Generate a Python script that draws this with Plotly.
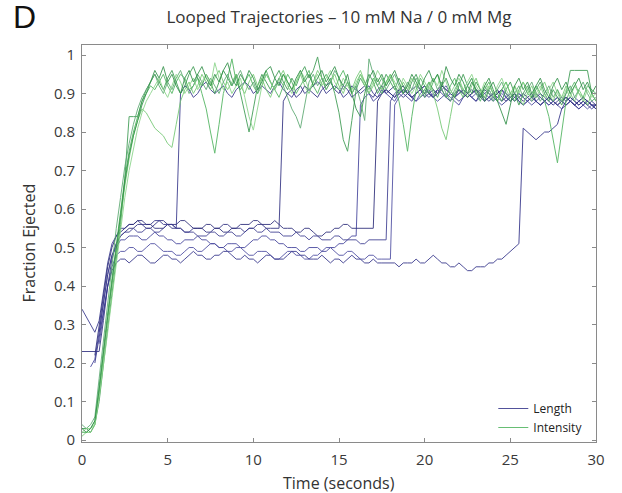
import plotly.graph_objects as go

# sampling times (s), 0.25 s steps from 0 to 30
TIME = [i * 0.25 for i in range(121)]

X_TICKS = [0, 5, 10, 15, 20, 25, 30]
Y_TICKS = [0, 0.1, 0.2, 0.3, 0.4, 0.5, 0.6, 0.7, 0.8, 0.9, 1]

TITLE = "Looped Trajectories \u2013 10 mM Na / 0 mM Mg"
PANEL = "D"
X_LABEL = "Time (seconds)"
Y_LABEL = "Fraction Ejected"
SERIES_NAMES = ["Length", "Intensity"]

# ---- Length trajectories ----
length_1 = [0.34,0.32,0.30,0.28,0.31,0.39,0.46,0.51,0.53,
    0.55,0.55,0.56,0.56,0.57,0.56,0.56,0.56,0.57,0.57,0.56,0.56,0.56,0.55,
    0.90,0.92,0.91,0.89,0.90,0.92,0.93,0.91,0.90,0.91,
    0.92,0.90,0.89,0.91,0.92,0.93,0.92,0.90,0.91,0.92,
    0.91,0.90,0.92,0.93,0.91,0.90,0.89,0.91,0.92,0.90,
    0.91,0.92,0.93,0.92,0.90,0.91,0.92,0.91,0.89,0.90,
    0.92,0.91,0.90,0.91,0.92,0.90,0.89,0.90,0.91,0.90,
    0.89,0.90,0.91,0.90,0.89,0.90,0.91,0.92,0.90,0.89,
    0.90,0.91,0.89,0.88,0.90,0.91,0.90,0.89,0.90,0.91,
    0.90,0.89,0.88,0.89,0.90,0.91,0.89,0.88,0.89,0.90,
    0.89,0.88,0.89,0.90,0.89,0.88,0.87,0.88,0.89,0.88,
    0.89,0.88,0.87,0.88,0.89,0.88,0.87,0.87]

length_2 = [0.23,0.23,0.23,0.23,0.23,
    0.31,0.40,0.47,0.51,
    0.53,0.54,0.55,0.55,0.56,0.56,0.55,0.55,0.56,0.57,
    0.57,0.56,0.55,0.55,0.55,0.54,0.54,0.55,0.55,0.55,
    0.54,0.54,0.55,0.55,0.56,0.56,0.55,0.55,0.55,0.54,
    0.55,0.55,0.56,0.56,0.55,0.55,0.55,0.55,
    0.88,0.90,0.91,0.89,0.90,0.92,0.91,0.90,0.89,0.91,
    0.92,0.93,0.91,0.90,0.92,0.91,0.89,0.90,0.91,0.92,
    0.90,0.89,0.91,0.92,0.90,0.91,0.92,0.90,0.89,0.90,
    0.91,0.92,0.91,0.89,0.90,0.91,0.90,0.92,0.91,0.90,
    0.89,0.90,0.91,0.90,0.89,0.88,0.90,0.91,0.90,0.89,
    0.90,0.91,0.90,0.89,0.88,0.89,0.90,0.89,0.88,0.89,
    0.90,0.89,0.88,0.87,0.88,0.89,0.88,0.89,0.88,0.87,
    0.88,0.87,0.88,0.87]

length_3 = [None,None,
    0.19,0.21,0.28,0.36,0.43,0.48,0.50,
    0.52,0.52,0.53,0.53,0.53,0.52,0.52,0.53,0.54,0.53,
    0.53,0.52,0.52,0.51,0.51,0.52,0.52,0.52,0.53,0.52,
    0.52,0.51,0.51,0.50,0.50,0.51,0.51,0.51,0.50,0.50,
    0.51,0.52,0.52,0.53,0.53,0.52,0.52,0.51,0.51,0.50,
    0.50,0.50,0.49,0.49,0.50,0.50,0.50,0.49,0.49,0.50,
    0.50,0.51,0.51,0.52,0.53,0.53,
    0.87,0.89,0.90,0.88,0.89,0.91,0.90,0.89,0.88,0.90,
    0.91,0.90,0.89,0.88,0.89,0.90,0.91,0.89,0.88,0.89,
    0.90,0.89,0.88,0.87,0.89,0.90,0.89,0.88,0.89,0.90,
    0.91,0.89,0.88,0.87,0.88,0.89,0.90,0.88,0.87,0.88,
    0.89,0.88,0.87,0.88,0.89,0.88,0.87,0.86,0.87,0.88,
    0.87,0.86,0.87,0.88,0.87,0.86]

length_4 = [None,None,None,
    0.22,0.30,0.38,0.45,0.50,0.53,
    0.54,0.55,0.56,0.56,0.57,0.57,0.56,0.56,0.55,0.55,
    0.55,0.56,0.56,0.56,0.57,0.57,0.56,0.55,0.55,0.55,
    0.56,0.56,0.55,0.55,0.54,0.54,0.55,0.55,0.56,0.56,
    0.56,0.57,0.57,0.56,0.56,0.56,0.57,0.56,0.55,0.55,
    0.55,0.54,0.54,0.55,0.55,0.54,0.53,0.53,0.54,0.54,
    0.55,0.55,0.56,0.56,0.55,0.55,0.55,0.55,0.55,0.55,
    0.88,0.90,0.91,0.90,0.89,0.91,0.92,0.90,0.89,0.90,
    0.91,0.92,0.90,0.89,0.91,0.92,0.91,0.90,0.89,0.91,
    0.90,0.89,0.90,0.91,0.90,0.88,0.89,0.90,0.91,0.89,
    0.88,0.89,0.90,0.89,0.88,0.89,0.90,0.88,0.87,0.88,
    0.89,0.88,0.87,0.88,0.89,0.88,0.87,0.88,0.89,0.88,
    0.87,0.87]

length_5 = [None,None,None,None,
    0.25,0.33,0.40,0.45,0.48,
    0.49,0.49,0.50,0.50,0.49,0.49,0.50,0.51,0.51,0.50,
    0.49,0.49,0.49,0.48,0.48,0.49,0.50,0.50,0.49,0.49,
    0.50,0.51,0.51,0.50,0.50,0.49,0.49,0.50,0.50,0.49,
    0.48,0.48,0.49,0.49,0.49,0.48,0.47,0.47,0.48,0.49,
    0.49,0.48,0.48,0.47,0.47,0.48,0.48,0.49,0.50,0.50,
    0.49,0.48,0.48,0.49,0.49,0.48,0.47,0.47,0.48,0.48,
    0.47,0.47,0.47,0.47,
    0.87,0.89,0.90,0.91,0.89,0.88,0.90,0.91,0.90,0.89,
    0.90,0.91,0.92,0.90,0.89,0.90,0.91,0.90,0.89,0.90,
    0.91,0.90,0.89,0.88,0.89,0.90,0.89,0.88,0.89,0.90,
    0.89,0.88,0.87,0.88,0.89,0.88,0.87,0.88,0.89,0.88,
    0.87,0.88,0.89,0.88,0.87,0.86,0.87,0.86]

length_6 = [None,None,None,
    0.20,0.27,0.34,0.40,0.44,0.46,
    0.47,0.47,0.46,0.47,0.48,0.48,0.47,0.46,0.46,0.47,
    0.48,0.48,0.47,0.47,0.46,0.47,0.48,0.49,0.48,0.48,
    0.47,0.47,0.48,0.48,0.49,0.49,0.48,0.47,0.47,0.48,
    0.47,0.47,0.46,0.47,0.48,0.48,0.47,0.47,0.47,0.48,
    0.49,0.49,0.48,0.48,0.47,0.47,0.47,0.48,0.47,0.46,
    0.47,0.47,0.46,0.47,0.48,0.47,0.47,0.46,0.46,0.47,
    0.46,0.46,0.46,0.46,0.46,0.45,0.46,0.46,0.46,0.47,
    0.46,0.46,0.47,0.48,0.47,0.46,0.46,0.45,0.45,0.46,
    0.45,0.44,0.44,0.45,0.45,0.45,0.46,0.46,0.47,0.47,
    0.48,0.49,0.50,0.51,
    0.81,0.80,0.79,0.78,0.79,0.80,0.80,0.81,0.82,0.86,
    0.88,0.89,0.88,0.87,0.88,0.87,0.86,0.87]

length_7 = [None,None,None,None,
    0.28,0.36,0.43,0.48,0.51,
    0.53,0.54,0.54,0.55,0.54,0.54,0.55,0.55,0.54,0.54,
    0.55,0.56,0.56,0.55,0.55,0.54,0.54,0.54,0.53,0.53,
    0.53,0.54,0.54,0.53,0.53,0.54,0.54,0.53,0.53,0.54,
    0.55,0.55,0.54,0.54,0.55,0.54,0.54,0.54,0.53,0.53,
    0.53,0.54,0.53,0.53,0.52,0.53,0.53,0.52,0.52,0.52,
    0.53,0.53,0.52,0.52,0.52,0.52,0.51,0.51,0.52,0.52,
    0.52,0.52,0.52,
    0.88,0.90,0.91,0.90,0.89,0.88,0.90,0.91,0.90,0.89,
    0.90,0.91,0.90,0.89,0.90,0.89,0.88,0.89,0.90,0.91,
    0.90,0.89,0.88,0.89,0.90,0.89,0.88,0.89,0.90,0.89,
    0.88,0.87,0.88,0.89,0.88,0.87,0.88,0.89,0.88,0.87,
    0.88,0.87,0.88,0.87,0.86,0.87,0.88,0.87,0.86]

# ---- Intensity trajectories ----
intensity_1 = [0.02,0.02,0.03,0.05,0.14,0.24,0.33,0.42,0.51,0.60,0.68,0.75,0.80,0.84,0.88,0.90,0.92,
    0.91,0.93,0.95,0.92,0.90,0.93,0.95,0.94,0.91,0.92,
    0.94,0.90,0.86,0.80,0.745,0.82,0.90,0.94,0.99,0.93,
    0.91,0.93,0.95,0.92,0.90,0.94,0.96,0.93,0.91,0.89,
    0.92,0.95,0.93,0.90,0.92,0.94,0.96,0.92,0.90,0.93,
    0.95,0.93,0.91,0.94,0.96,0.93,0.90,0.92,0.95,0.93,
    0.91,0.94,0.92,0.90,0.93,0.95,0.92,0.88,0.82,0.75,
    0.84,0.91,0.94,0.92,0.90,0.93,0.95,0.91,0.89,0.92,
    0.94,0.91,0.89,0.92,0.94,0.90,0.88,0.91,0.93,0.90,
    0.88,0.91,0.93,0.90,0.88,0.91,0.93,0.90,0.89,0.92,
    0.90,0.88,0.84,0.78,0.72,0.80,0.88,0.91,0.93,0.90,
    0.89,0.92,0.91,0.90]

intensity_2 = [0.03,0.03,0.02,0.04,0.10,0.20,0.29,0.38,0.47,0.56,0.68,0.84,0.84,0.84,
    0.88,0.91,0.93,
    0.95,0.93,0.91,0.94,0.96,0.93,0.90,0.92,0.95,0.97,
    0.94,0.92,0.95,0.93,0.90,0.93,0.96,0.94,0.92,0.95,
    0.90,0.85,0.80,0.86,0.92,0.95,0.93,0.91,0.94,0.96,
    0.93,0.91,0.94,0.92,0.95,0.97,0.94,0.96,0.995,0.94,
    0.92,0.94,0.90,0.85,0.78,0.75,0.83,0.91,0.94,0.92,
    0.95,0.93,0.90,0.92,0.95,0.93,0.91,0.94,0.92,0.90,
    0.93,0.95,0.92,0.90,0.93,0.91,0.89,0.92,0.94,0.91,
    0.89,0.92,0.95,0.92,0.90,0.93,0.91,0.88,0.91,0.93,
    0.90,0.88,0.91,0.93,0.90,0.87,0.90,0.92,0.89,0.91,
    0.93,0.90,0.88,0.91,0.89,0.87,0.90,0.96,0.96,0.96,
    0.96,0.96,0.90,0.88]

intensity_3 = [0.01,0.02,0.02,0.04,0.12,0.22,0.31,0.40,0.49,0.58,0.66,0.73,0.79,0.83,0.86,0.85,0.83,
    0.81,0.80,0.79,0.77,0.76,0.82,0.88,0.91,0.93,0.90,
    0.92,0.95,0.93,0.91,0.94,0.96,0.93,0.91,0.93,0.95,
    0.92,0.90,0.93,0.95,0.92,0.94,0.91,0.89,0.92,0.94,
    0.96,0.93,0.91,0.93,0.95,0.92,0.90,0.93,0.96,0.94,
    0.91,0.93,0.95,0.92,0.90,0.93,0.91,0.94,0.96,0.93,
    0.90,0.92,0.94,0.91,0.93,0.95,0.92,0.90,0.93,0.91,
    0.94,0.92,0.89,0.91,0.93,0.90,0.86,0.81,0.78,0.84,
    0.90,0.93,0.91,0.89,0.92,0.94,0.91,0.89,0.92,0.90,
    0.88,0.91,0.93,0.90,0.92,0.89,0.87,0.90,0.92,0.89,
    0.91,0.93,0.90,0.88,0.91,0.89,0.92,0.90,0.88,0.91,
    0.89,0.87,0.90,0.88]

intensity_4 = [0.04,0.03,0.04,0.06,0.16,0.26,0.35,0.45,0.55,0.63,0.71,0.77,0.82,0.86,0.89,0.91,0.93,
    0.95,0.92,0.90,0.93,0.91,0.94,0.96,0.93,0.90,0.92,
    0.95,0.93,0.91,0.94,0.92,0.90,0.93,0.95,0.92,0.94,
    0.96,0.93,0.91,0.93,0.90,0.92,0.95,0.93,0.91,0.94,
    0.92,0.89,0.86,0.84,0.81,0.87,0.93,0.95,0.92,0.94,
    0.91,0.93,0.96,0.94,0.91,0.93,0.90,0.92,0.88,0.83,
    0.99,0.95,0.92,0.94,0.91,0.93,0.95,0.92,0.90,0.93,
    0.91,0.94,0.92,0.89,0.92,0.94,0.91,0.93,0.90,0.88,
    0.91,0.93,0.90,0.92,0.94,0.91,0.89,0.92,0.90,0.88,
    0.91,0.93,0.90,0.88,0.90,0.92,0.89,0.91,0.93,0.90,
    0.88,0.90,0.92,0.89,0.91,0.88,0.90,0.92,0.89,0.91,
    0.93,0.90,0.88,0.89]

intensity_5 = [0.02,0.03,0.03,0.04,0.11,0.19,0.28,0.37,0.46,0.55,0.63,0.70,0.76,0.81,0.85,0.88,0.90,
    0.92,0.94,0.91,0.89,0.92,0.95,0.93,0.90,0.92,0.94,
    0.91,0.93,0.95,0.92,0.98,0.94,0.91,0.93,0.90,0.92,
    0.94,0.89,0.84,0.805,0.86,0.92,0.95,0.93,0.91,0.93,
    0.95,0.92,0.90,0.93,0.96,0.94,0.91,0.93,0.95,0.92,
    0.94,0.96,0.93,0.91,0.94,0.92,0.90,0.93,0.95,0.92,
    0.90,0.93,0.96,0.94,0.92,0.95,0.93,0.91,0.94,0.92,
    0.90,0.92,0.95,0.93,0.91,0.94,0.92,0.96,0.93,0.90,
    0.92,0.94,0.91,0.93,0.95,0.92,0.90,0.93,0.91,0.89,
    0.92,0.94,0.91,0.89,0.92,0.90,0.93,0.91,0.88,0.90,
    0.92,0.89,0.91,0.93,0.90,0.88,0.91,0.89,0.92,0.90,
    0.88,0.91,0.89,0.90]

intensity_6 = [0.03,0.02,0.03,0.05,0.13,0.23,0.32,0.41,0.50,0.59,0.67,0.74,0.79,0.83,0.87,0.90,0.93,
    0.96,0.94,0.97,0.93,0.95,0.92,0.90,0.94,0.96,0.93,
    0.95,0.97,0.94,0.92,0.95,0.93,0.96,0.98,0.94,0.92,
    0.95,0.93,0.96,0.94,0.91,0.93,0.96,0.97,0.94,0.92,
    0.95,0.93,0.91,0.94,0.96,0.93,0.95,0.92,0.94,0.96,
    0.93,0.95,0.97,0.94,0.92,0.95,0.90,0.86,0.84,0.90,
    0.94,0.96,0.93,0.95,0.92,0.94,0.96,0.93,0.90,0.92,
    0.95,0.93,0.91,0.94,0.96,0.93,0.95,0.92,0.97,0.94,
    0.92,0.95,0.93,0.90,0.93,0.91,0.89,0.92,0.94,0.91,
    0.88,0.85,0.82,0.87,0.92,0.94,0.91,0.93,0.90,0.92,
    0.94,0.91,0.89,0.92,0.94,0.91,0.93,0.90,0.92,0.94,
    0.91,0.93,0.90,0.92]

LENGTH_SERIES = [length_1, length_2, length_3, length_4, length_5, length_6, length_7]
INTENSITY_SERIES = [intensity_1, intensity_2, intensity_3, intensity_4, intensity_5, intensity_6]

LENGTH_COLORS = ["#34348a", "#2e2e80", "#40409a", "#2a2a78", "#4a4aa0", "#303088", "#3c3c90"]
INTENSITY_COLORS = ["#4cb35c", "#3a9a50", "#72c872", "#5aa870", "#88d488", "#2f8f46"]

fig = go.Figure()
for k, vals in enumerate(LENGTH_SERIES):
    fig.add_trace(go.Scatter(
        x=TIME[:len(vals)], y=vals, mode="lines", name=SERIES_NAMES[0],
        legendgroup="len", showlegend=(k == 0),
        line=dict(color=LENGTH_COLORS[k], width=1), opacity=0.85))
for k, vals in enumerate(INTENSITY_SERIES):
    fig.add_trace(go.Scatter(
        x=TIME[:len(vals)], y=vals, mode="lines", name=SERIES_NAMES[1],
        legendgroup="int", showlegend=(k == 0),
        line=dict(color=INTENSITY_COLORS[k], width=1), opacity=0.85))

FONT = "Open Sans"
axis_common = dict(
    showline=True, linecolor="#8a8a8a", linewidth=1, mirror="allticks",
    ticks="inside", ticklen=4, tickcolor="#8a8a8a", showgrid=False, zeroline=False,
    tickfont=dict(family=FONT, size=15, color="#3a3a3a"),
)
fig.update_xaxes(range=[0, 30], tickvals=X_TICKS, ticklabelstandoff=4, **axis_common)
fig.update_yaxes(range=[-0.005, 1.026], tickvals=Y_TICKS, ticklabelstandoff=3, **axis_common)

fig.update_layout(
    width=622, height=493,
    margin=dict(l=82, r=26, t=45, b=51),
    paper_bgcolor="white", plot_bgcolor="white",
    font=dict(family=FONT, color="#333"),
    title=dict(text=TITLE, x=0.5, xref="paper", xanchor="center",
               y=1 - 17 / 493, yanchor="middle",
               font=dict(family=FONT, size=17, color="#333")),
    legend=dict(x=0.985, y=0.0, xanchor="right", yanchor="bottom",
                bgcolor="rgba(0,0,0,0)", font=dict(family=FONT, size=12, color="#222"),
                tracegroupgap=0, itemwidth=30),
    annotations=[
        dict(text=PANEL, xref="paper", yref="paper", x=0, y=1, xshift=-58, yshift=28,
             xanchor="center", yanchor="middle", showarrow=False,
             font=dict(family="Liberation Sans", size=32, color="#111")),
        dict(text=X_LABEL, xref="paper", yref="paper", x=0.5, y=0, yshift=-28,
             xanchor="center", yanchor="top", showarrow=False,
             font=dict(family=FONT, size=16, color="#333")),
        dict(text=Y_LABEL, xref="paper", yref="paper", x=0, y=0.5, xshift=-54,
             xanchor="center", yanchor="middle", textangle=-90, showarrow=False,
             font=dict(family=FONT, size=16, color="#333")),
    ],
)

fig.write_html("out.html")
